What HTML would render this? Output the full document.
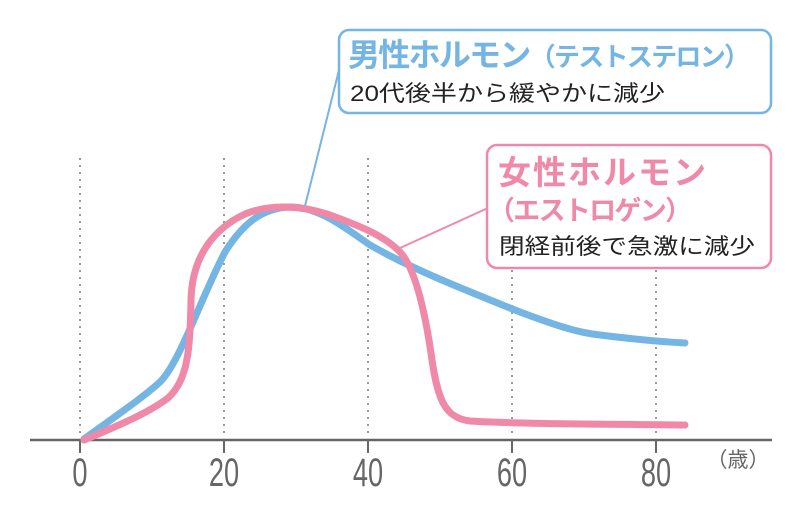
<!DOCTYPE html>
<html><head><meta charset="utf-8"><style>
html,body{margin:0;padding:0;background:#fff;}
svg{display:block;}
.t{font-family:"Liberation Sans","Noto Sans CJK JP",sans-serif;}
</style></head><body>
<svg width="800" height="520" viewBox="0 0 800 520" xmlns="http://www.w3.org/2000/svg">
<g stroke="#999" stroke-width="2" stroke-dasharray="2,5">
<line x1="80" y1="158" x2="80" y2="438"/>
<line x1="224" y1="158" x2="224" y2="438"/>
<line x1="368" y1="158" x2="368" y2="438"/>
<line x1="512" y1="270" x2="512" y2="438"/>
<line x1="656" y1="270" x2="656" y2="438"/>
</g>
<line x1="30" y1="440" x2="772" y2="440" stroke="#666" stroke-width="2.5"/>
<g stroke="#666" stroke-width="2">
<line x1="80" y1="440" x2="80" y2="453"/><line x1="224" y1="440" x2="224" y2="453"/>
<line x1="368" y1="440" x2="368" y2="453"/><line x1="512" y1="440" x2="512" y2="453"/>
<line x1="656" y1="440" x2="656" y2="453"/>
</g>
<g class="t" fill="#666" font-size="40" text-anchor="middle">
<text x="80" y="486" transform="translate(80 0) scale(0.68 1) translate(-80 0)">0</text>
<text x="224" y="486" transform="translate(224 0) scale(0.68 1) translate(-224 0)">20</text>
<text x="368" y="486" transform="translate(368 0) scale(0.68 1) translate(-368 0)">40</text>
<text x="512" y="486" transform="translate(512 0) scale(0.68 1) translate(-512 0)">60</text>
<text x="656" y="486" transform="translate(656 0) scale(0.68 1) translate(-656 0)">80</text>
<text x="738" y="467" font-size="21">（歳）</text>
</g>
<line x1="339" y1="70" x2="304" y2="210" stroke="#74b5e3" stroke-width="2"/>
<line x1="488" y1="208" x2="400" y2="248" stroke="#f088a8" stroke-width="2"/>
<path d="M84,439 C110,420 140,400 160,382 C180,362 200,300 225,252 C245,220 265,208 290,207 C320,207 345,228 370,245 C410,268 460,288 520,312 C560,327 580,333 600,335 C640,340 665,342 685,343" fill="none" stroke="#74b5e3" stroke-width="7" stroke-linecap="round"/>
<path d="M84,440 C120,425 150,412 168,398 C188,380 190,350 191,300 C192,255 215,228 245,214 C270,204 300,205 330,215 C360,226 385,236 400,252 C415,268 425,310 432,360 C438,400 445,418 470,421 C520,424 600,424 685,425" fill="none" stroke="#f088a8" stroke-width="7" stroke-linecap="round"/>
<rect x="339" y="30" width="432" height="83" rx="10" fill="#fff" stroke="#74b5e3" stroke-width="2.5"/>
<text class="t" x="348" y="66" font-size="32" font-weight="bold" fill="#74b5e3" textLength="402" lengthAdjust="spacing">男性ホルモン<tspan font-size="26">（テストステロン）</tspan></text>
<text class="t" x="350" y="101" font-size="22" fill="#222" textLength="315" lengthAdjust="spacingAndGlyphs">20代後半から緩やかに減少</text>
<rect x="487" y="145" width="284" height="123" rx="10" fill="#fff" stroke="#f088a8" stroke-width="2.5"/>
<text class="t" x="498" y="184" font-size="33" font-weight="bold" fill="#f088a8" textLength="208" lengthAdjust="spacing">女性ホルモン</text>
<text class="t" x="488" y="220" font-size="27" font-weight="bold" fill="#f088a8" textLength="204" lengthAdjust="spacing">（エストロゲン）</text>
<text class="t" x="499" y="254" font-size="22" fill="#222" textLength="256" lengthAdjust="spacingAndGlyphs">閉経前後で急激に減少</text>
</svg>
</body></html>
